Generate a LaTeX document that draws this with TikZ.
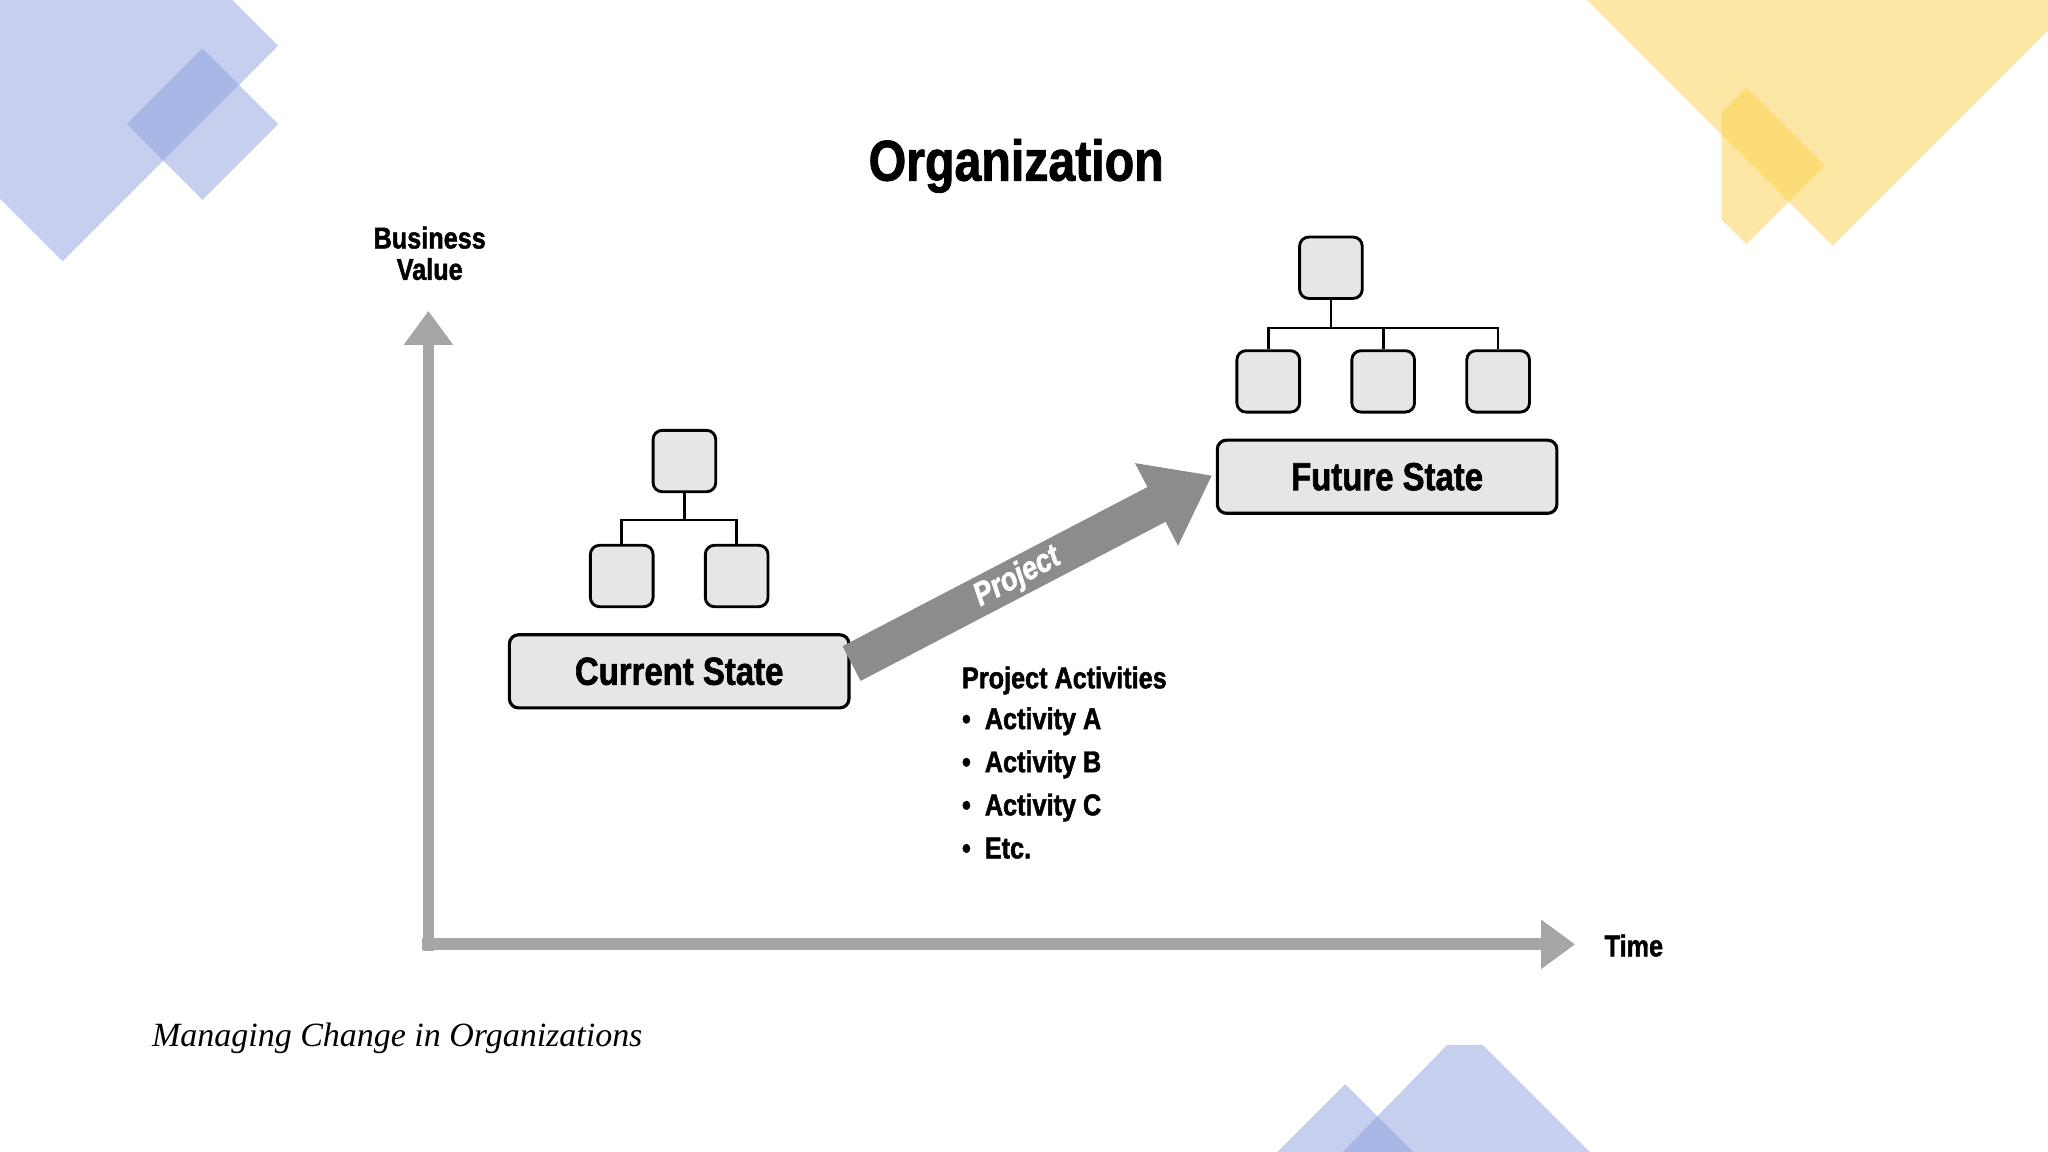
\documentclass[tikz,border=0pt]{standalone}
\usepackage{fontspec}
\setmainfont{Liberation Sans}
\newfontfamily\cond[FakeStretch=0.84,FakeBold=1.5]{Liberation Sans}
\newfontfamily\capfont{Liberation Serif}
\usetikzlibrary{arrows.meta}
\definecolor{bluedec}{HTML}{8DA0DE}
\definecolor{yeldec}{HTML}{FBD04A}
\definecolor{axisgray}{HTML}{A6A6A6}
\definecolor{boxfill}{HTML}{E6E6E6}
\definecolor{projgray}{HTML}{8C8C8C}
\tikzset{
  x=1pt,y=-1pt,
  deco/.style={fill opacity=0.5},
  orgbox/.style={draw=black,line width=2.2pt,rounded corners=7pt,fill=boxfill,minimum width=48pt,minimum height=47pt,inner sep=0pt},
  statebox/.style={draw=black,line width=2.4pt,rounded corners=7pt,fill=boxfill,minimum width=260pt,minimum height=56pt,inner sep=0pt,font=\cond\bfseries\fontsize{30}{32}\selectfont},
  link/.style={draw=black,line width=2pt},
  axis/.style={draw=axisgray,line width=9pt,-{Triangle[length=26pt,width=36pt]}},
  lbl/.style={font=\cond\bfseries\fontsize{23}{27}\selectfont,align=center},
}
\begin{document}
\begin{tikzpicture}
\useasboundingbox (0,0) rectangle (1568,882);
\begin{scope}
\clip (0,0) rectangle (1568,882);
% decorations
\fill[bluedec,deco] (48,-130) -- (213,35) -- (48,200) -- (-117,35) -- cycle;
\fill[bluedec,deco] (155,37) -- (213,95) -- (155,153) -- (97,95) -- cycle;
\fill[yeldec,deco] (1403,-208) -- (1601,-10) -- (1403,188) -- (1205,-10) -- cycle;
\fill[yeldec,deco] (1337,67) -- (1397,127) -- (1337,187) -- (1318,168) -- (1318,86) -- cycle;
\fill[bluedec,deco] (1108,800) -- (1135,800) -- (1230,895) -- (1122,1003) -- (1015,895) -- cycle;
\fill[bluedec,deco] (1030,830) -- (1090,890) -- (1030,950) -- (970,890) -- cycle;
\end{scope}
% title
\node[font=\cond\bfseries\fontsize{44}{48}\selectfont] (title) at (778,127) {Organization};
% axes
\coordinate (ytip) at (328,238);
\coordinate (xtip) at (1206,723);
\coordinate (xstart) at (323,723);
\coordinate (ystart) at (328,728);
\draw[axis] (ystart) -- (ytip);
\draw[axis] (xstart) -- (xtip);
\node[lbl] (bv) at (329,194) {Business\\[-3pt]Value};
\node[lbl,anchor=west] (time) at (1225,724) {Time};
% current state
\node[statebox] (cur) at (520,514) {Current State};
\node[orgbox] (c0) at (524,353) {};
\node[orgbox] (c1) at (476,441) {};
\node[orgbox] (c2) at (564,441) {};
\coordinate (cbus) at (524,398);
\draw[link] (c0.south) -- (cbus);
\draw[link] (c1.north) |- (cbus) -| (c2.north);
% future state
\node[statebox] (fut) at (1062,365) {Future State};
\node[orgbox] (f0) at (1019,205) {};
\node[orgbox] (f1) at (971,292) {};
\node[orgbox] (f2) at (1059,292) {};
\node[orgbox] (f3) at (1147,292) {};
\coordinate (fbus) at (1019,251);
\draw[link] (f0.south) -- (fbus);
\draw[link] (f1.north) |- (fbus) -| (f3.north);
\draw[link] (f2.north) -- (f2.north |- fbus);
% project arrow
\coordinate (pstart) at (652,508);
\coordinate (pend) at (928,364);
\draw[projgray,line width=30pt,-{Triangle[length=48pt,width=68pt]}] (pstart) -- (pend);
\node[white,rotate=28,font=\cond\bfseries\itshape\fontsize{25}{28}\selectfont] (proj) at (779,442) {Project};
% activities
\node[lbl,anchor=west] (pa) at (733,521) {Project Activities};
\node[lbl,anchor=north west,align=left] (acts) at (733,538) {\textbullet\ \ Activity A\\[6pt]\textbullet\ \ Activity B\\[6pt]\textbullet\ \ Activity C\\[6pt]\textbullet\ \ Etc.};
% caption
\node[anchor=west,font=\capfont\itshape\fontsize{26}{28}\selectfont] (cap) at (113,795) {Managing Change in Organizations};
\end{tikzpicture}
\end{document}
